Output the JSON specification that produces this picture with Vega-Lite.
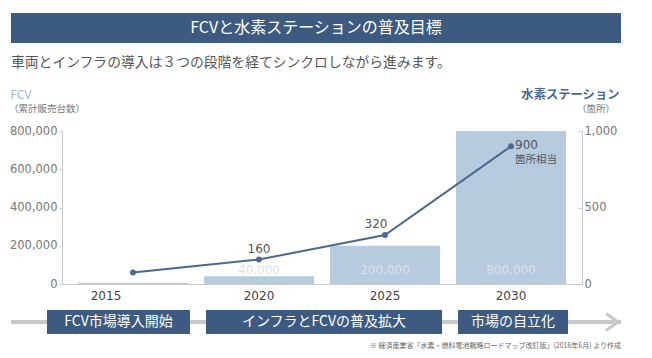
{
  "$schema": "https://vega.github.io/schema/vega-lite/v6.json",
  "background": "white",
  "padding": {"left": 9, "top": 13, "right": 0, "bottom": 0},
  "config": {
    "view": {"stroke": null},
    "font": "Noto Sans CJK JP",
    "title": {"fontWeight": "normal"}
  },
  "spacing": 18,
  "resolve": {"scale": {"x": "independent", "y": "independent"}},
  "vconcat": [
    {
      "width": 610,
      "height": 30,
      "data": {"values": [{"title": "FCVと水素ステーションの普及目標"}]},
      "title": {
        "text": "車両とインフラの導入は３つの段階を経てシンクロしながら進みます。",
        "orient": "bottom",
        "anchor": "start",
        "frame": "group",
        "fontSize": 13.8,
        "fontWeight": "normal",
        "color": "#555555",
        "offset": 13
      },
      "encoding": {
        "x": {"field": "title", "type": "nominal", "axis": null, "scale": {"paddingInner": 0, "paddingOuter": 0}},
        "y": {"field": "title", "type": "nominal", "axis": null, "scale": {"paddingInner": 0, "paddingOuter": 0}}
      },
      "layer": [
        {"mark": {"type": "rect", "color": "#3d5a80"}},
        {"mark": {"type": "text", "color": "white", "fontSize": 16}, "encoding": {"text": {"field": "title"}}}
      ]
    },
    {
      "spacing": 6,
      "resolve": {"scale": {"x": "independent", "y": "independent"}},
      "vconcat": [
        {
          "spacing": -3,
          "resolve": {"scale": {"x": "independent", "y": "independent"}},
          "hconcat": [
            {
              "width": 1,
              "height": 153,
              "data": {"values": []},
              "mark": {"type": "point", "opacity": 0}
            },
            {
              "width": 520,
              "height": 153,
              "data": {"values": [
                {"year": "2015", "fcv": 6000, "stations": 75, "note": ""},
                {"year": "2020", "fcv": 40000, "stations": 160, "note": ""},
                {"year": "2025", "fcv": 200000, "stations": 320, "note": ""},
                {"year": "2030", "fcv": 800000, "stations": 900, "note": "箇所相当"}
              ]},
              "encoding": {
                "x": {
                  "field": "year", "type": "nominal",
                  "scale": {"domain": ["2015", "2020", "2025", "2030"], "paddingInner": 0.127, "paddingOuter": 0.127},
                  "axis": {
                    "title": null, "labelAngle": 0, "ticks": false,
                    "domainColor": "#c8c8c8", "labelColor": "#444444",
                    "labelFont": "DejaVu Sans", "labelFontSize": 12, "labelPadding": 6,
                    "labelOffset": {"condition": {"test": "datum.value === '2015'", "value": -27}, "value": 0}
                  }
                }
              },
              "layer": [
                {
                  "encoding": {
                    "y": {
                      "field": "fcv", "type": "quantitative",
                      "scale": {"domain": [0, 800000]},
                      "axis": {
                        "values": [0, 200000, 400000, 600000, 800000], "format": ",d", "grid": false,
                        "title": "FCV", "titleAngle": 0, "titleAlign": "left", "titleBaseline": "middle",
                        "titleX": -52, "titleY": -37, "titleColor": "#a4bccf", "titleFontSize": 12,
                        "titleFont": "Noto Sans", "titleFontWeight": "normal",
                        "labelFont": "DejaVu Sans", "labelFontSize": 11.5, "labelColor": "#777777",
                        "domainColor": "#c8c8c8", "tickColor": "#c8c8c8", "tickSize": 3, "labelPadding": 2
                      }
                    }
                  },
                  "layer": [
                    {
                      "mark": {"type": "bar"},
                      "encoding": {
                        "color": {"condition": {"test": "datum.year === '2015'", "value": "#c5cbd1"}, "value": "#b6cbdd"}
                      }
                    },
                    {
                      "transform": [{"filter": "datum.year !== '2015'"}],
                      "mark": {"type": "text", "color": "#dbe3ea", "fontSize": 12, "font": "DejaVu Sans", "baseline": "middle", "dy": -14},
                      "encoding": {
                        "y": {"datum": 0, "type": "quantitative"},
                        "text": {"field": "fcv", "type": "quantitative", "format": ",d"}
                      }
                    },
                    {
                      "transform": [{"filter": "datum.year === '2015'"}],
                      "mark": {"type": "text", "align": "left", "baseline": "middle", "fontSize": 9.5, "color": "#777777", "dx": -124, "dy": -22},
                      "encoding": {
                        "y": {"datum": 800000, "type": "quantitative"},
                        "text": {"value": "（累計販売台数）"}
                      }
                    }
                  ]
                },
                {
                  "encoding": {
                    "y": {
                      "field": "stations", "type": "quantitative",
                      "scale": {"domain": [0, 1000]},
                      "axis": {
                        "orient": "right",
                        "values": [0, 500, 1000], "format": ",d", "grid": false,
                        "title": "水素ステーション", "titleAngle": 0, "titleAlign": "right", "titleBaseline": "middle",
                        "titleX": 37, "titleY": -37, "titleColor": "#4a6890", "titleFontSize": 12.3,
                        "titleFontWeight": "bold",
                        "labelFont": "DejaVu Sans", "labelFontSize": 11.5, "labelColor": "#777777",
                        "domainColor": "#c8c8c8", "tickColor": "#c8c8c8", "tickSize": -4, "labelPadding": 6
                      }
                    }
                  },
                  "layer": [
                    {"mark": {"type": "line", "color": "#4a6890", "strokeWidth": 2}},
                    {"mark": {"type": "point", "filled": true, "color": "#4a6890", "size": 35, "opacity": 1}},
                    {
                      "transform": [{"filter": "datum.year === '2020'"}],
                      "mark": {"type": "text", "baseline": "middle", "dy": -11, "fontSize": 12, "font": "DejaVu Sans", "color": "#555555"},
                      "encoding": {"text": {"field": "stations", "type": "quantitative"}}
                    },
                    {
                      "transform": [{"filter": "datum.year === '2025'"}],
                      "mark": {"type": "text", "baseline": "middle", "dx": -9, "dy": -11, "fontSize": 12, "font": "DejaVu Sans", "color": "#555555"},
                      "encoding": {"text": {"field": "stations", "type": "quantitative"}}
                    },
                    {
                      "transform": [{"filter": "datum.year === '2030'"}],
                      "mark": {"type": "text", "align": "left", "baseline": "middle", "dx": 4, "dy": -1.5, "fontSize": 12, "font": "DejaVu Sans", "color": "#555555"},
                      "encoding": {"text": {"field": "stations", "type": "quantitative"}}
                    },
                    {
                      "transform": [{"filter": "datum.year === '2030'"}],
                      "mark": {"type": "text", "align": "left", "baseline": "middle", "dx": 4, "dy": 13.5, "fontSize": 10.5, "color": "#555555"},
                      "encoding": {"text": {"field": "note"}}
                    },
                    {
                      "transform": [{"filter": "datum.year === '2030'"}],
                      "mark": {"type": "text", "align": "right", "baseline": "middle", "fontSize": 9.5, "color": "#777777", "dx": 104, "dy": -22},
                      "encoding": {
                        "y": {"datum": 1000, "type": "quantitative"},
                        "text": {"value": "（箇所）"}
                      }
                    }
                  ]
                }
              ],
              "resolve": {"scale": {"y": "independent"}}
            }
          ]
        },
        {
          "width": 610,
          "height": 24,
          "data": {"values": [
            {"phase": "FCV市場導入開始", "start": "2015", "end": "2015"},
            {"phase": "インフラとFCVの普及拡大", "start": "2020", "end": "2025"},
            {"phase": "市場の自立化", "start": "2030", "end": "2030"}
          ]},
          "title": {
            "text": "※ 経済産業省「水素・燃料電池戦略ロードマップ改訂版」(2016年6月) より作成",
            "orient": "bottom", "anchor": "end", "frame": "group",
            "fontSize": 7, "fontWeight": "normal", "color": "#666666", "offset": 5
          },
          "encoding": {
            "y": {"datum": "timeline", "type": "nominal", "axis": null, "scale": {"paddingInner": 0, "paddingOuter": 0}}
          },
          "layer": [
            {"mark": {"type": "rule", "color": "#c8c8c8", "strokeWidth": 4}},
            {
              "transform": [{"filter": "datum.start === '2015'"}],
              "mark": {"type": "rect", "color": "#3d5a80", "xOffset": -33},
              "encoding": {
                "x": {
                  "field": "start", "type": "nominal", "bandPosition": 0, "axis": null,
                  "scale": {"domain": ["2015", "2020", "2025", "2030"], "paddingInner": 0.127, "paddingOuter": 0.4841, "align": 0.5656}
                },
                "x2": {"field": "end", "bandPosition": 1}
              }
            },
            {
              "transform": [{"filter": "datum.start !== '2015'"}],
              "mark": {"type": "rect", "color": "#3d5a80"},
              "encoding": {
                "x": {"field": "start", "type": "nominal", "bandPosition": 0, "axis": null},
                "x2": {"field": "end", "bandPosition": 1}
              }
            },
            {
              "transform": [{"filter": "datum.start === '2015'"}],
              "mark": {"type": "text", "color": "white", "fontSize": 14, "dx": -16.5},
              "encoding": {"x": {"field": "start", "type": "nominal", "axis": null}, "text": {"field": "phase"}}
            },
            {
              "transform": [{"filter": "datum.start === '2020'"}],
              "mark": {"type": "text", "color": "white", "fontSize": 14, "dx": 63},
              "encoding": {"x": {"field": "start", "type": "nominal", "axis": null}, "text": {"field": "phase"}}
            },
            {
              "transform": [{"filter": "datum.start === '2030'"}],
              "mark": {"type": "text", "color": "white", "fontSize": 14},
              "encoding": {"x": {"field": "start", "type": "nominal", "axis": null}, "text": {"field": "phase"}}
            },
            {
              "data": {"values": [{"end": "2030"}]},
              "mark": {"type": "point", "shape": "M-1.4,-1L0,0L-1.4,1", "filled": false, "stroke": "#c8c8c8", "strokeWidth": 3, "size": 289, "xOffset": 105, "opacity": 1},
              "encoding": {"x": {"field": "end", "type": "nominal", "axis": null}}
            }
          ]
        }
      ]
    }
  ]
}
